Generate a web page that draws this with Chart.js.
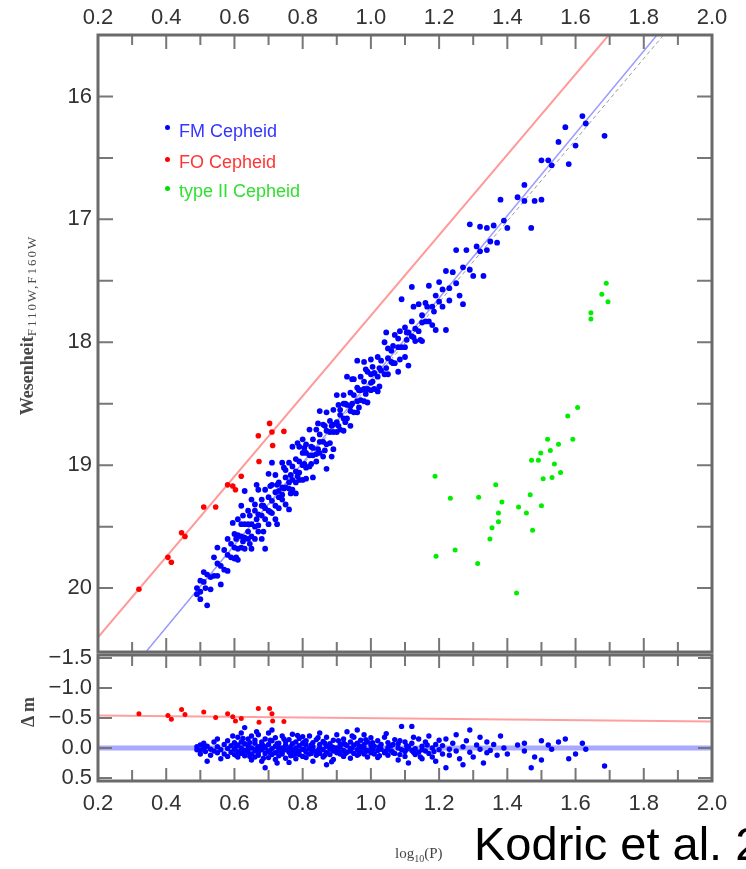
<!DOCTYPE html>
<html>
<head>
<meta charset="utf-8">
<script src="https://cdn.jsdelivr.net/npm/chart.js@4.4.0/dist/chart.umd.min.js"></script>
<style>
  html, body { margin: 0; padding: 0; background: #fff; overflow: hidden; }
  #wrap { position: relative; width: 746px; height: 869px; overflow: hidden; }
  canvas { position: absolute; left: 0; top: 0; }
  .txt { position: absolute; white-space: nowrap; }
  .leg { font: 18px "Liberation Sans", Arial, sans-serif; line-height: 20px; }
  .dot { position: absolute; width: 5px; height: 5px; border-radius: 50%; }
  #ytitle { left: 28px; top: 325px; transform: translate(-50%, -50%) rotate(-90deg);
            font: bold 18px "Liberation Serif", "Times New Roman", serif; color: #4a4a4a; }
  #ytitle sub { font-size: 13px; font-weight: normal; letter-spacing: 2px; vertical-align: -3px; }
  #dtitle { left: 28px; top: 712px; transform: translate(-50%, -50%) rotate(-90deg);
            font: bold 18px "Liberation Serif", serif; color: #444; }
  #xtitle { left: 395px; top: 845px; font: 15px "Liberation Serif", serif; color: #444; }
  #xtitle sub { font-size: 10px; }
  #cite { left: 474px; top: 816px; font: 47px "Liberation Sans", Arial, sans-serif; color: #000; }
</style>
</head>
<body>
<div id="wrap">
  <canvas id="bottomChart" width="746" height="869"></canvas>
  <canvas id="topChart" width="746" height="869"></canvas>

  <span class="dot" style="left:165px; top:125px; background:#0000ff"></span>
  <span class="txt leg" style="left:179px; top:121px; color:#3535ff">FM Cepheid</span>
  <span class="dot" style="left:165px; top:157px; background:#ff0000"></span>
  <span class="txt leg" style="left:179px; top:152px; color:#ff3535">FO Cepheid</span>
  <span class="dot" style="left:165px; top:186px; background:#00e000"></span>
  <span class="txt leg" style="left:179px; top:181px; color:#30e030">type II Cepheid</span>

  <div id="ytitle" class="txt">Wesenheit<sub>F110W,F160W</sub></div>
  <div id="dtitle" class="txt">Δ m</div>
  <div id="xtitle" class="txt">log<sub>10</sub>(P)</div>
  <div id="cite" class="txt">Kodric et al. 2013</div>
</div>

<script>
// FM Cepheids: log period, Wesenheit magnitude and residual from the fit
const fmLogP = [
  0.49,0.49,0.50,0.50,0.50,0.51,0.51,0.515,0.52,0.52,0.53,0.53,0.54,0.54,0.55,0.55,0.55,0.56,0.56,0.57,0.57,0.58,0.58,0.58,0.59,0.59,0.595,0.60,0.60,0.60,
  0.61,0.61,0.61,0.61,0.62,0.62,0.62,0.62,0.63,0.63,0.63,0.63,0.64,0.64,0.64,0.64,0.65,0.65,0.65,0.65,
  0.66,0.66,0.66,0.66,0.67,0.67,0.67,0.67,0.68,0.68,0.68,0.68,0.69,0.69,0.69,0.69,0.70,0.70,0.70,0.70,
  0.71,0.71,0.71,0.71,0.72,0.72,0.72,0.72,0.73,0.73,0.73,0.73,0.74,0.74,0.74,0.74,0.75,0.75,0.75,0.75,
  0.76,0.76,0.76,0.76,0.77,0.77,0.77,0.77,0.78,0.78,0.78,0.78,0.79,0.79,0.79,0.79,0.80,0.80,0.80,0.80,
  0.81,0.81,0.81,0.81,0.82,0.82,0.82,0.83,0.83,0.83,0.83,0.84,0.84,0.84,0.85,0.85,0.85,0.85,0.86,0.86,0.86,
  0.87,0.87,0.87,0.87,0.88,0.88,0.88,0.89,0.89,0.89,0.89,0.90,0.90,0.90,0.91,0.91,0.91,0.92,0.92,0.92,0.92,
  0.93,0.93,0.93,0.94,0.94,0.94,0.94,0.95,0.95,0.95,0.96,0.96,0.96,0.96,0.97,0.97,0.97,0.98,0.98,0.98,0.98,
  0.99,0.99,0.99,1.00,1.00,1.00,1.00,
  1.01,1.01,1.02,1.02,1.02,1.03,1.03,1.04,1.04,1.05,1.05,1.05,1.06,1.06,1.07,1.07,1.08,1.08,1.08,1.09,1.09,
  1.10,1.10,1.10,1.11,1.11,1.12,1.12,1.12,1.13,1.13,1.14,1.14,1.15,1.15,1.15,1.16,1.16,1.17,1.17,1.18,1.18,1.19,1.19,1.20,1.20,
  1.21,1.21,1.22,1.22,1.23,1.23,1.24,1.25,1.25,1.26,1.27,1.27,1.28,1.29,1.29,1.30,1.31,1.32,1.32,1.33,1.34,1.34,1.35,1.36,1.37,1.38,1.39,1.40,
  1.43,1.45,1.45,1.47,1.48,1.50,1.50,1.52,1.53,1.55,1.57,1.58,1.60,1.62,1.63,1.685,
  0.605,0.605,0.625,0.625,0.645,0.645,0.665,0.665,0.685,0.685,0.705,0.705,0.725,0.725,0.745,0.745,0.765,0.765,0.785,0.785,
  0.805,0.805,0.825,0.825,0.845,0.845,0.865,0.865,0.885,0.885,0.905,0.905,0.925,0.925,0.945,0.945,0.965,0.965,0.985,0.985,
  1.005,1.005,1.025,1.025,1.045,1.045,1.065,1.065,1.085,1.085,1.105,1.105,1.125,1.125,1.145,1.165,1.185
];
const fmWes = [
  20.00,20.05,19.94,20.03,20.09,19.95,19.87,20.00,20.14,19.89,19.91,20.01,19.75,19.90,19.80,19.90,19.67,19.82,19.97,19.69,19.85,19.73,19.60,19.86,19.64,19.75,19.47,19.67,19.56,19.76,
  19.57,19.68,19.77,19.44,19.58,19.48,19.67,19.33,19.21,19.59,19.48,19.68,19.54,19.37,19.60,19.48,19.28,19.48,19.58,19.68,
  19.37,19.50,19.32,19.60,19.40,19.49,19.20,19.54,19.41,19.28,19.60,19.33,19.68,19.20,19.35,19.44,19.07,19.37,19.26,19.48,
  19.29,19.16,19.39,18.98,19.22,19.33,19.08,19.44,19.26,19.14,19.35,19.21,18.98,19.24,19.18,19.28,19.04,19.18,19.32,19.10,
  19.19,18.98,19.14,19.36,19.01,19.20,18.85,19.12,19.05,18.95,19.14,19.23,18.97,19.06,18.85,19.12,19.00,18.90,19.12,18.79,
  18.90,19.02,18.83,19.11,18.92,18.71,19.01,18.79,18.92,19.10,18.86,18.71,18.91,18.97,18.81,18.56,18.90,18.75,18.81,18.67,18.93,
  18.72,18.83,18.57,19.03,18.64,18.73,18.82,18.55,18.73,18.67,18.87,18.65,18.43,18.73,18.55,18.71,18.59,18.62,18.43,18.72,18.50,
  18.51,18.62,18.28,18.52,18.41,18.68,18.56,18.43,18.57,18.30,18.48,18.37,18.57,18.15,18.39,18.47,18.28,18.38,18.16,18.48,18.32,
  18.24,18.38,18.49,18.33,18.26,18.14,18.39,
  18.25,18.38,18.28,18.12,18.40,18.15,18.23,18.26,18.00,18.13,18.26,18.05,18.16,18.07,17.94,18.17,18.04,18.24,17.97,17.65,18.04,
  17.88,18.04,18.12,18.19,17.92,17.55,17.95,17.83,17.89,17.99,17.69,17.91,17.78,17.99,17.84,17.68,17.83,17.83,17.54,17.71,17.86,17.62,17.90,17.67,17.51,
  17.71,17.57,17.42,17.90,17.56,17.66,17.43,17.25,17.52,17.62,17.39,17.69,17.25,17.41,17.04,17.46,17.22,17.26,17.06,17.46,17.07,17.25,17.18,17.05,17.19,16.84,17.01,17.07,
  16.82,16.85,16.72,17.07,16.85,16.52,16.84,16.52,16.56,16.37,16.25,16.55,16.40,16.16,16.22,16.32,
  19.60,19.75,19.62,19.41,19.41,19.64,19.44,19.16,19.33,19.54,19.38,19.17,19.16,19.48,19.19,19.02,19.08,19.23,19.09,18.82,
  18.86,18.99,18.99,18.85,18.66,18.87,18.88,18.68,18.68,18.93,18.68,18.51,18.50,18.65,18.50,18.30,18.53,18.39,18.22,18.42,
  18.32,18.20,18.21,18.36,18.21,17.92,18.03,18.17,18.14,17.91,17.92,17.98,17.96,17.71,17.98,17.71,17.75
];
const fmDelta = [
  -0.02,0.03,-0.05,0.04,0.10,0.00,-0.08,0.06,0.22,-0.03,0.02,0.12,-0.10,0.05,-0.02,0.08,-0.15,0.03,0.18,-0.06,0.10,0.01,-0.12,0.14,-0.04,0.07,-0.20,0.02,-0.09,0.11,
  -0.05,0.06,0.15,-0.18,0.00,-0.10,0.09,-0.25,-0.34,0.04,-0.07,0.13,0.02,-0.15,0.08,-0.04,-0.20,0.00,0.10,0.20,
  -0.08,0.05,-0.13,0.15,-0.02,0.07,-0.22,0.12,0.03,-0.10,0.22,-0.05,0.33,-0.15,0.00,0.09,-0.25,0.05,-0.06,0.16,
  0.01,-0.12,0.11,-0.30,-0.03,0.08,-0.17,0.19,0.04,-0.08,0.13,-0.01,-0.20,0.06,0.00,0.10,-0.11,0.03,0.17,-0.05,
  0.07,-0.14,0.02,0.24,-0.07,0.12,-0.23,0.04,0.00,-0.10,0.09,0.18,-0.04,0.05,-0.16,0.11,0.02,-0.08,0.14,-0.19,
  -0.05,0.07,-0.12,0.16,0.01,-0.20,0.10,-0.09,0.04,0.22,-0.02,-0.14,0.06,0.12,0.00,-0.25,0.09,-0.06,0.03,-0.11,0.15,
  -0.03,0.08,-0.18,0.28,-0.07,0.02,0.11,-0.13,0.05,-0.01,0.19,0.00,-0.22,0.08,-0.06,0.10,-0.02,0.04,-0.15,0.14,-0.08,
  -0.04,0.07,-0.27,0.01,-0.10,0.17,0.05,-0.05,0.09,-0.18,0.03,-0.08,0.12,-0.30,-0.02,0.06,-0.13,0.00,-0.22,0.10,-0.06,
  -0.10,0.04,0.15,0.02,-0.05,-0.17,0.08,
  -0.03,0.10,0.04,-0.12,0.16,-0.06,0.02,0.08,-0.18,-0.01,0.12,-0.09,0.05,-0.04,-0.14,0.09,0.00,0.20,-0.07,-0.36,0.03,
  -0.10,0.06,0.14,0.25,-0.02,-0.36,0.04,-0.08,0.01,0.11,-0.15,0.07,-0.03,0.18,0.03,-0.10,0.05,0.09,-0.20,0.00,0.15,-0.06,0.22,0.03,-0.13,
  0.10,-0.04,-0.15,0.33,0.02,0.12,-0.08,-0.22,0.05,0.18,-0.02,0.28,-0.12,0.07,-0.30,0.15,-0.05,0.02,-0.18,0.25,-0.10,0.08,0.04,-0.06,0.12,-0.20,0.00,0.10,
  -0.05,0.05,-0.08,0.33,0.15,-0.12,0.20,-0.05,0.02,-0.10,-0.15,0.18,0.10,-0.08,0.02,0.30,
  -0.03,0.12,0.05,-0.16,-0.09,0.14,0.01,-0.27,-0.04,0.17,0.08,-0.13,-0.07,0.25,0.02,-0.15,-0.02,0.13,0.06,-0.21,
  -0.10,0.03,0.09,-0.05,-0.17,0.04,0.12,-0.08,-0.02,0.23,0.05,-0.12,-0.06,0.09,0.00,-0.20,0.10,-0.04,-0.14,0.06,
  0.03,-0.09,-0.02,0.13,0.05,-0.24,-0.06,0.08,0.11,-0.12,-0.04,0.02,0.07,-0.18,0.15,-0.05,0.06
];

// FO Cepheids
const foLogP = [0.32,0.405,0.415,0.445,0.455,0.51,0.545,0.58,0.595,0.603,0.62,0.67,0.672,0.703,0.71,0.712,0.745];
const foWes = [20.01,19.75,19.79,19.55,19.58,19.34,19.34,19.16,19.17,19.20,19.09,18.76,18.97,18.66,18.73,18.84,18.725];
const foDelta = [-0.57,-0.54,-0.48,-0.64,-0.56,-0.60,-0.51,-0.57,-0.52,-0.45,-0.49,-0.66,-0.43,-0.66,-0.57,-0.45,-0.44];

// type II Cepheids
const t2LogP = [1.690,1.677,1.695,1.645,1.645,1.606,1.577,1.592,1.518,1.550,1.526,1.498,1.471,1.491,1.538,1.556,1.505,1.531,
                1.188,1.366,1.233,1.316,1.384,1.467,1.433,1.456,1.500,1.374,1.374,1.355,1.474,1.349,1.247,1.191,1.313,1.427];
const t2Wes = [17.52,17.61,17.67,17.76,17.81,18.53,18.60,18.79,18.79,18.83,18.88,18.90,18.96,18.96,18.99,19.06,19.11,19.10,
               19.09,19.16,19.27,19.26,19.30,19.24,19.34,19.39,19.33,19.39,19.46,19.51,19.53,19.60,19.69,19.74,19.80,20.04];

// fitted relations (end points)
const fitLogP = [0.2, 2.0];
const foFitWes = [20.40, 14.51];
const fmFitWes = [20.99, 14.96];
const fmFit2Wes = [20.98, 15.03];
const foFitDelta = [-0.54, -0.44];
const fmFitDelta = [0, 0];

// axis ticks
const logPTicks = [0.2,0.3,0.4,0.5,0.6,0.7,0.8,0.9,1.0,1.1,1.2,1.3,1.4,1.5,1.6,1.7,1.8,1.9,2.0];
const wesTicks = [16,16.5,17,17.5,18,18.5,19,19.5,20];
const deltaTicks = [-1.5,-1.0,-0.5,0.0,0.5];

const pts = (xs, ys) => xs.map((x, i) => ({ x: x, y: ys[i] }));
const labelFont = { family: '"Liberation Sans", Arial, sans-serif', size: 22 };
const labelColor = '#333';

const framePlugin = {
  id: 'frame',
  afterDraw(chart, args, o) {
    const ctx = chart.ctx, a = chart.chartArea;
    const xs = chart.scales.x, ys = chart.scales.y;
    ctx.save();
    ctx.strokeStyle = '#777';
    ctx.lineWidth = 2;
    ctx.beginPath();
    logPTicks.forEach(v => {
      const px = xs.getPixelForValue(v);
      const len = Math.round(v * 10) % 2 === 0 ? o.xMajor : o.xMinor;
      ctx.moveTo(px, a.top); ctx.lineTo(px, a.top + len);
      ctx.moveTo(px, a.bottom); ctx.lineTo(px, a.bottom - len);
    });
    o.yTicks.forEach(v => {
      const py = ys.getPixelForValue(v);
      ctx.moveTo(a.left, py); ctx.lineTo(a.left + o.yLen, py);
      ctx.moveTo(a.right, py); ctx.lineTo(a.right - o.yLen, py);
    });
    ctx.stroke();
    ctx.strokeStyle = '#6a6a6a';
    ctx.lineWidth = 3;
    ctx.strokeRect(a.left, a.top, a.right - a.left, a.bottom - a.top);
    ctx.restore();
  }
};

function xScale(position, pad, height) {
  return {
    type: 'linear', position: position, min: 0.2, max: 2.0,
    ticks: { stepSize: 0.2, padding: pad, color: labelColor, font: labelFont,
             maxRotation: 0, autoSkip: false, callback: v => v.toFixed(1) },
    grid: { display: false, drawTicks: false },
    border: { display: false },
    afterFit: s => { s.height = height; }
  };
}

function yScale(min, max, step, fmt) {
  return {
    type: 'linear', position: 'left', reverse: true, min: min, max: max,
    ticks: { stepSize: step, includeBounds: false, padding: 6, color: labelColor,
             font: labelFont, callback: fmt },
    grid: { display: false, drawTicks: false },
    border: { display: false },
    afterFit: s => { s.width = 98; }
  };
}

function points(data, color, r) {
  return { type: 'scatter', data: data, backgroundColor: color, borderWidth: 0,
           pointRadius: r, pointHoverRadius: r };
}

function line(data, color, width, dash) {
  return { type: 'line', data: data, borderColor: color, borderWidth: width,
           borderDash: dash || [], pointRadius: 0, fill: false, tension: 0 };
}

new Chart(document.getElementById('topChart'), {
  type: 'scatter',
  data: {
    datasets: [
      points(pts(fmLogP, fmWes), '#0000ff', 2.9),
      points(pts(foLogP, foWes), '#ff0000', 2.8),
      points(pts(t2LogP, t2Wes), '#00ee00', 2.5),
      line(pts(fitLogP, foFitWes), '#ff9a9a', 2),
      line(pts(fitLogP, fmFitWes), '#9a9aff', 1.5),
      line(pts(fitLogP, fmFit2Wes), '#9a9a9a', 1, [4, 3])
    ]
  },
  options: {
    responsive: false, animation: false,
    layout: { padding: { left: 0, right: 34, top: 0, bottom: 217 } },
    plugins: { legend: { display: false }, tooltip: { enabled: false },
               frame: { xMajor: 14, xMinor: 10, yTicks: wesTicks, yLen: 15 } },
    scales: {
      x: xScale('top', 4, 35),
      y: yScale(15.5, 20.52, 1, v => String(v))
    }
  },
  plugins: [framePlugin]
});

new Chart(document.getElementById('bottomChart'), {
  type: 'scatter',
  data: {
    datasets: [
      points(pts(fmLogP, fmDelta), '#0000ff', 2.7),
      points(pts(foLogP, foDelta), '#ff0000', 2.5),
      line(pts(fitLogP, foFitDelta), '#ffa0a0', 2),
      line(pts(fitLogP, fmFitDelta), '#a8a8ff', 5)
    ]
  },
  options: {
    responsive: false, animation: false,
    layout: { padding: { left: 0, right: 34, top: 655, bottom: 0 } },
    plugins: { legend: { display: false }, tooltip: { enabled: false },
               frame: { xMajor: 13, xMinor: 11, yTicks: deltaTicks, yLen: 14 } },
    scales: {
      x: xScale('bottom', 10, 88),
      y: yScale(-1.55, 0.55, 0.5, v => (v < 0 ? '\u2212' : '') + Math.abs(v).toFixed(1))
    }
  },
  plugins: [framePlugin]
});
</script>
</body>
</html>
